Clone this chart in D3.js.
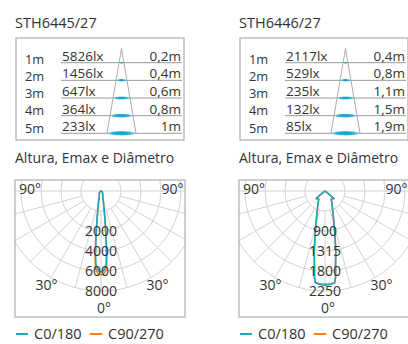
<!DOCTYPE html>
<html><head><meta charset="utf-8">
<script src="https://cdn.jsdelivr.net/npm/d3@7"></script>
<style>html,body{margin:0;padding:0;background:#fff;}svg{display:block;font-family:"Open Sans",sans-serif;}</style>
</head><body>
<script>
// ---- data ----
const models = ["STH6445/27", "STH6446/27"];
const heights = ["1m", "2m", "3m", "4m", "5m"];
const luxA = ["5826lx", "1456lx", "647lx", "364lx", "233lx"];
const diamA = ["0,2m", "0,4m", "0,6m", "0,8m", "1m"];
const luxB = ["2117lx", "529lx", "235lx", "132lx", "85lx"];
const diamB = ["0,4m", "0,8m", "1,1m", "1,5m", "1,9m"];
const subtitle = "Altura, Emax e Diâmetro";
const ticksA = ["2000", "4000", "6000", "8000"];
const ticksB = ["900", "1315", "1800", "2250"];
const angleLabels = ["90°", "90°", "30°", "30°", "0°"];
const seriesNames = ["C0/180", "C90/270"];
// polar intensities (cd) by angle from nadir (deg)
const anglesA = [0, 1, 2, 3, 4, 5, 6, 7, 8, 10, 12, 15, 20, 30, 45, 60, 75, 90];
const c0A  = [5826, 5800, 5700, 5520, 5300, 4500, 3500, 2700, 2050, 1300, 880, 560, 360, 250, 160, 90, 35, 0];
const c90A = [6050, 6020, 5950, 5800, 5550, 4900, 3700, 2650, 2000, 1270, 860, 550, 350, 240, 155, 85, 30, 0];
const anglesB = [0, 2, 4, 6, 7, 8, 10, 12, 14, 16, 18, 22, 26, 30, 34, 38, 44, 50, 54, 60, 90];
const c0B  = [2117, 2112, 2100, 2075, 1950, 1700, 1400, 1100, 870, 720, 610, 460, 370, 310, 260, 230, 245, 264, 60, 0, 0];
const c90B = [2095, 2093, 2088, 2070, 1950, 1700, 1400, 1100, 870, 720, 610, 460, 370, 310, 260, 230, 245, 264, 60, 0, 0];

const panels = [
  {dx: 0, model: models[0], lux: luxA, diam: diamA, ticks: ticksA, angles: anglesA, c0: c0A, c90: c90A, max: 7200},
  {dx: 224, model: models[1], lux: luxB, diam: diamB, ticks: ticksB, angles: anglesB, c0: c0B, c90: c90B, max: 2250}
];

const W = 408, H = 344;
const CYAN = "#1ca7c2", ORANGE = "#f5821f", TXT = "#333", GRID = "#d2d2d2", BOX = "#b4b4b4";

const svg = d3.select("body").append("svg").attr("width", W).attr("height", H);
const defs = svg.append("defs");
const grad = defs.append("radialGradient").attr("id", "ell");
grad.append("stop").attr("offset", "0%").attr("stop-color", "#0e9cc4");
grad.append("stop").attr("offset", "65%").attr("stop-color", "#2fb2d4");
grad.append("stop").attr("offset", "100%").attr("stop-color", "#8fd6ea").attr("stop-opacity", 0.4);

panels.forEach((p, pi) => {
  const g = svg.append("g").attr("transform", `translate(${p.dx},0)`);
  // title
  g.append("text").attr("x", 15).attr("y", 28).attr("font-size", 14.5).attr("fill", TXT).text(p.model);
  // table box
  g.append("rect").attr("x", 16).attr("y", 38).attr("width", 168).attr("height", 102)
    .attr("fill", "none").attr("stroke", BOX).attr("stroke-width", 1.3);
  const yLine = d3.scaleLinear().domain([0, 4]).range([62.7, 133.3]);
  const apex = {x: 121.5, y: 48.5};
  const widthS = d3.scaleLinear().domain([apex.y, yLine(4)]).range([0, 14.5]);
  heights.forEach((h, i) => {
    const y = yLine(i);
    g.append("line").attr("x1", 61).attr("x2", 182).attr("y1", y).attr("y2", y)
      .attr("stroke", "#9a9a9a").attr("stroke-width", 1);
    g.append("text").attr("x", 25).attr("y", 63.5 + i * 17.3).attr("font-size", 12.8).attr("fill", TXT).text(h);
    g.append("text").attr("x", 62).attr("y", y - 2).attr("font-size", 13.5).attr("fill", TXT).text(p.lux[i]);
    g.append("text").attr("x", 181).attr("y", y - 2).attr("text-anchor", "end").attr("font-size", 13.5).attr("fill", TXT).text(p.diam[i]);
  });
  // cone
  const bw = widthS(yLine(4));
  g.append("path").attr("d", `M${apex.x - bw},${yLine(4)}L${apex.x},${apex.y}L${apex.x + bw},${yLine(4)}`)
    .attr("fill", "none").attr("stroke", "#a0a0a0").attr("stroke-width", 0.9);
  heights.forEach((h, i) => {
    const y = yLine(i), rx = widthS(y);
    g.append("ellipse").attr("cx", apex.x).attr("cy", y).attr("rx", rx).attr("ry", 0.8 + rx * 0.12)
      .attr("fill", "url(#ell)");
  });

  // subtitle
  g.append("text").attr("x", 15).attr("y", 163).attr("font-size", 14).attr("fill", TXT).text(subtitle);

  // polar box
  const bx = 15, by = 180, bwid = 170, bh = 137;
  const cx = 101, cy = 191;
  const clipId = "clip" + pi;
  g.append("clipPath").attr("id", clipId).append("rect").attr("x", bx).attr("y", by).attr("width", bwid).attr("height", bh);
  const pg = g.append("g").attr("clip-path", `url(#${clipId})`);
  const gridR = [20, 40, 60, 80, 100];
  pg.selectAll("circle.grid").data(gridR).join("circle")
    .attr("cx", cx).attr("cy", cy).attr("r", d => d)
    .attr("fill", "none").attr("stroke", GRID).attr("stroke-width", 1);
  // horizontal 90° line
  pg.append("line").attr("x1", bx).attr("x2", bx + bwid).attr("y1", cy).attr("y2", cy)
    .attr("stroke", GRID).attr("stroke-width", 1);
  const spokes = d3.range(-75, 76, 15);
  pg.selectAll("line.spoke").data(spokes).join("line")
    .attr("x1", d => cx + 20 * Math.sin(d * Math.PI / 180))
    .attr("y1", d => cy + 20 * Math.cos(d * Math.PI / 180))
    .attr("x2", d => cx + 100 * Math.sin(d * Math.PI / 180))
    .attr("y2", d => cy + 100 * Math.cos(d * Math.PI / 180))
    .attr("stroke", GRID).attr("stroke-width", 1);

  // curves
  const r = d3.scaleLinear().domain([0, p.max]).range([0, 100]);
  const line = d3.lineRadial().angle(d => Math.PI - d.a * Math.PI / 180).radius(d => r(d.v)).curve(d3.curveLinear);
  const full = vals => {
    const right = p.angles.map((a, i) => ({a: a, v: vals[i]}));
    const left = p.angles.map((a, i) => ({a: -a, v: vals[i]})).reverse();
    return left.concat(right.slice(1));
  };
  const cg = pg.append("g").attr("transform", `translate(${cx},${cy})`);
  cg.append("path").attr("d", line(full(p.c90))).attr("fill", "none").attr("stroke", ORANGE).attr("stroke-width", 1.6).attr("stroke-linejoin", "round");
  cg.append("path").attr("d", line(full(p.c0))).attr("fill", "none").attr("stroke", CYAN).attr("stroke-width", 1.6).attr("stroke-linejoin", "round");

  // labels
  p.ticks.forEach((t, i) => {
    g.append("text").attr("x", cx).attr("y", cy + gridR[i + 1]).attr("dy", "0.35em")
      .attr("text-anchor", "middle").attr("font-size", 14).attr("fill", TXT).text(t);
  });
  const angPos = [[cx - 71, 189.5], [cx + 71.5, 189.5], [cx - 54.5, 285.5], [cx + 56.5, 285.5], [cx + 3, 308.5]];
  angleLabels.forEach((t, i) => {
    g.append("text").attr("x", angPos[i][0]).attr("y", angPos[i][1]).attr("dy", "0.35em")
      .attr("text-anchor", "middle").attr("font-size", 14).attr("fill", TXT).text(t);
  });
  g.append("rect").attr("x", bx).attr("y", by).attr("width", bwid).attr("height", bh)
    .attr("fill", "none").attr("stroke", BOX).attr("stroke-width", 1.3);

  // legend
  const lg = [{x: 16, c: CYAN, name: seriesNames[0]}, {x: 90, c: ORANGE, name: seriesNames[1]}];
  lg.forEach(l => {
    g.append("line").attr("x1", l.x).attr("x2", l.x + 12).attr("y1", 334).attr("y2", 334)
      .attr("stroke", l.c).attr("stroke-width", 2);
    g.append("text").attr("x", l.x + 18).attr("y", 334).attr("dy", "0.35em").attr("font-size", 14.5).attr("fill", TXT).text(l.name);
  });
});
</script>
</body></html>
